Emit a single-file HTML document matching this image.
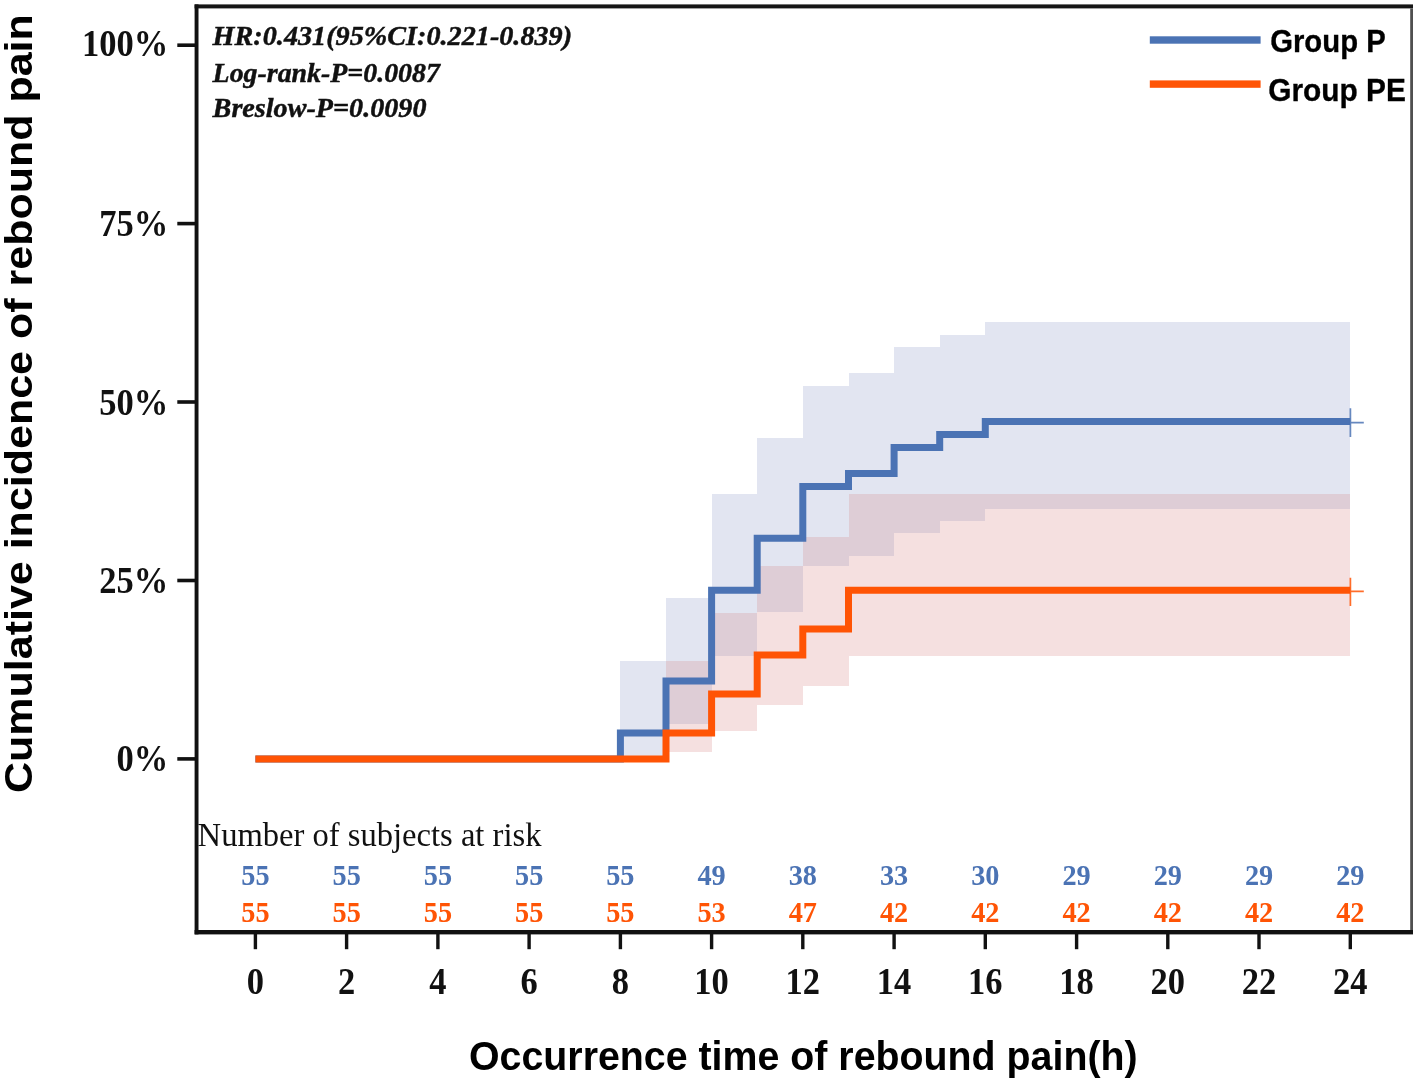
<!DOCTYPE html>
<html><head><meta charset="utf-8"><title>Cumulative incidence of rebound pain</title>
<style>
html,body{margin:0;padding:0;background:#fff;}
body{width:1417px;height:1083px;overflow:hidden;font-family:"Liberation Sans",sans-serif;}
svg{display:block;filter:blur(0.55px);}
</style></head><body>
<svg width="1417" height="1083" viewBox="0 0 1417 1083">
<rect width="1417" height="1083" fill="#fff"/>
<!-- CI bands -->
<g shape-rendering="crispEdges">
<path d="M620.4,661.2 L666.0,661.2 L666.0,597.6 L711.6,597.6 L711.6,493.9 L757.2,493.9 L757.2,438.3 L802.8,438.3 L802.8,386.0 L848.5,386.0 L848.5,373.0 L894.1,373.0 L894.1,347.4 L939.7,347.4 L939.7,334.9 L985.3,334.9 L985.3,322.4 L1350.4,322.4 L1350.4,508.8 L985.3,508.8 L985.3,520.6 L939.7,520.6 L939.7,533.0 L894.1,533.0 L894.1,555.5 L848.5,555.5 L848.5,565.5 L802.8,565.5 L802.8,611.8 L757.2,611.8 L757.2,655.5 L711.6,655.5 L711.6,723.5 L666.0,723.5 L666.0,756.5 L620.4,756.5Z" fill="#e2e5f1"/>
<path d="M666.0,661.2 L711.6,661.2 L711.6,612.8 L757.2,612.8 L757.2,566.0 L802.8,566.0 L802.8,536.8 L848.5,536.8 L848.5,493.9 L1350.4,493.9 L1350.4,655.5 L848.5,655.5 L848.5,686.0 L802.8,686.0 L802.8,705.2 L757.2,705.2 L757.2,730.6 L711.6,730.6 L711.6,752.0 L666.0,752.0Z" fill="#f5e0e0"/>
<path d="M666.0,661.2 L711.6,661.2 L711.6,612.8 L757.2,612.8 L757.2,566.0 L802.8,566.0 L802.8,536.8 L848.5,536.8 L848.5,493.9 L894.1,493.9 L894.1,493.9 L939.7,493.9 L939.7,493.9 L985.3,493.9 L985.3,493.9 L1030.9,493.9 L1030.9,493.9 L1076.6,493.9 L1076.6,493.9 L1122.2,493.9 L1122.2,493.9 L1167.8,493.9 L1167.8,493.9 L1213.4,493.9 L1213.4,493.9 L1259.0,493.9 L1259.0,493.9 L1304.7,493.9 L1304.7,493.9 L1350.4,493.9 L1350.4,508.8 L1304.7,508.8 L1304.7,508.8 L1259.0,508.8 L1259.0,508.8 L1213.4,508.8 L1213.4,508.8 L1167.8,508.8 L1167.8,508.8 L1122.2,508.8 L1122.2,508.8 L1076.6,508.8 L1076.6,508.8 L1030.9,508.8 L1030.9,508.8 L985.3,508.8 L985.3,520.6 L939.7,520.6 L939.7,533.0 L894.1,533.0 L894.1,555.5 L848.5,555.5 L848.5,565.5 L802.8,565.5 L802.8,611.8 L757.2,611.8 L757.2,655.5 L711.6,655.5 L711.6,723.5 L666.0,723.5Z" fill="#decdd6"/>
</g>
<!-- frame -->
<rect x="194.6" y="4.4" width="1218.4" height="4" fill="#161616"/>
<rect x="194.6" y="930" width="1218.4" height="4.4" fill="#111"/>
<rect x="194.6" y="4.4" width="3.9" height="930" fill="#111"/>
<rect x="1410.2" y="8.4" width="2.8" height="921.6" fill="#505050"/>
<rect x="253.7" y="934" width="3.4" height="15.2" fill="#111"/>
<rect x="344.9" y="934" width="3.4" height="15.2" fill="#111"/>
<rect x="436.2" y="934" width="3.4" height="15.2" fill="#111"/>
<rect x="527.4" y="934" width="3.4" height="15.2" fill="#111"/>
<rect x="618.7" y="934" width="3.4" height="15.2" fill="#111"/>
<rect x="709.9" y="934" width="3.4" height="15.2" fill="#111"/>
<rect x="801.1" y="934" width="3.4" height="15.2" fill="#111"/>
<rect x="892.4" y="934" width="3.4" height="15.2" fill="#111"/>
<rect x="983.6" y="934" width="3.4" height="15.2" fill="#111"/>
<rect x="1074.9" y="934" width="3.4" height="15.2" fill="#111"/>
<rect x="1166.1" y="934" width="3.4" height="15.2" fill="#111"/>
<rect x="1257.3" y="934" width="3.4" height="15.2" fill="#111"/>
<rect x="1348.6" y="934" width="3.4" height="15.2" fill="#111"/>
<rect x="177.3" y="757.1" width="18" height="3.6" fill="#111"/>
<rect x="177.3" y="578.7" width="18" height="3.6" fill="#111"/>
<rect x="177.3" y="400.2" width="18" height="3.6" fill="#111"/>
<rect x="177.3" y="221.8" width="18" height="3.6" fill="#111"/>
<rect x="177.3" y="43.4" width="18" height="3.6" fill="#111"/>
<!-- curves -->
<path d="M255.4,758.9 H620.4 V732.9 H666.0 V681.0 H711.6 V590.2 H757.2 V538.3 H802.8 V486.4 H848.5 V473.4 H894.1 V447.5 H939.7 V434.5 H985.3 V421.5 H1350.3" fill="none" stroke="#4b73b4" stroke-width="7" stroke-linejoin="miter"/>
<path d="M255.4,758.9 H666.0 V732.9 H711.6 V694.0 H757.2 V655.1 H802.8 V629.1 H848.5 V590.2 H1350.3" fill="none" stroke="#ff5405" stroke-width="7" stroke-linejoin="miter"/>
<!-- censor marks -->
<path d="M1350.4,408.3 V437 M1350.3,422.6 H1363.8" stroke="#4b73b4" stroke-width="1.7" stroke-opacity="0.85" fill="none"/>
<path d="M1350.4,577.8 V606 M1350.3,591.3 H1363.8" stroke="#ff5405" stroke-width="1.7" stroke-opacity="0.85" fill="none"/>
<!-- legend -->
<rect x="1149.8" y="36.3" width="110.8" height="7.4" fill="#4b73b4"/>
<rect x="1149.8" y="80.4" width="110.8" height="7.4" fill="#ff5405"/>
<text transform="translate(1270.20,51.80) scale(0.976,1.05)" text-anchor="start" font-family="Liberation Sans, sans-serif" font-weight="bold" font-style="normal" font-size="30" fill="#000" stroke="#000" stroke-width="0.3">Group P</text>
<text transform="translate(1268.20,100.70) scale(1.012,1.06)" text-anchor="start" font-family="Liberation Sans, sans-serif" font-weight="bold" font-style="normal" font-size="29.5" fill="#000" stroke="#000" stroke-width="0.3">Group PE</text>
<!-- annotation -->
<text transform="translate(212.60,45.20) scale(1.026,1.0)" text-anchor="start" font-family="Liberation Serif, serif" font-weight="bold" font-style="italic" font-size="27.5" fill="#111" stroke="#111" stroke-width="0.45">HR:0.431(95%CI:0.221-0.839)</text>
<text transform="translate(212.60,82.10) scale(1.014,1.0)" text-anchor="start" font-family="Liberation Serif, serif" font-weight="bold" font-style="italic" font-size="27.5" fill="#111" stroke="#111" stroke-width="0.45">Log-rank-P=0.0087</text>
<text transform="translate(212.60,116.80) scale(1.024,1.0)" text-anchor="start" font-family="Liberation Serif, serif" font-weight="bold" font-style="italic" font-size="27.5" fill="#111" stroke="#111" stroke-width="0.45">Breslow-P=0.0090</text>
<text transform="translate(197.60,845.70) scale(1.0,1.05)" text-anchor="start" font-family="Liberation Serif, serif" font-weight="normal" font-style="normal" font-size="32.6" fill="#111">Number of subjects at risk</text>
<text transform="translate(255.40,885.40) scale(1.0,1.07)" text-anchor="middle" font-family="Liberation Serif, serif" font-weight="bold" font-style="normal" font-size="28.3" fill="#4b73b4">55</text>
<text transform="translate(346.64,885.40) scale(1.0,1.07)" text-anchor="middle" font-family="Liberation Serif, serif" font-weight="bold" font-style="normal" font-size="28.3" fill="#4b73b4">55</text>
<text transform="translate(437.88,885.40) scale(1.0,1.07)" text-anchor="middle" font-family="Liberation Serif, serif" font-weight="bold" font-style="normal" font-size="28.3" fill="#4b73b4">55</text>
<text transform="translate(529.12,885.40) scale(1.0,1.07)" text-anchor="middle" font-family="Liberation Serif, serif" font-weight="bold" font-style="normal" font-size="28.3" fill="#4b73b4">55</text>
<text transform="translate(620.36,885.40) scale(1.0,1.07)" text-anchor="middle" font-family="Liberation Serif, serif" font-weight="bold" font-style="normal" font-size="28.3" fill="#4b73b4">55</text>
<text transform="translate(711.60,885.40) scale(1.0,1.07)" text-anchor="middle" font-family="Liberation Serif, serif" font-weight="bold" font-style="normal" font-size="28.3" fill="#4b73b4">49</text>
<text transform="translate(802.84,885.40) scale(1.0,1.07)" text-anchor="middle" font-family="Liberation Serif, serif" font-weight="bold" font-style="normal" font-size="28.3" fill="#4b73b4">38</text>
<text transform="translate(894.08,885.40) scale(1.0,1.07)" text-anchor="middle" font-family="Liberation Serif, serif" font-weight="bold" font-style="normal" font-size="28.3" fill="#4b73b4">33</text>
<text transform="translate(985.32,885.40) scale(1.0,1.07)" text-anchor="middle" font-family="Liberation Serif, serif" font-weight="bold" font-style="normal" font-size="28.3" fill="#4b73b4">30</text>
<text transform="translate(1076.56,885.40) scale(1.0,1.07)" text-anchor="middle" font-family="Liberation Serif, serif" font-weight="bold" font-style="normal" font-size="28.3" fill="#4b73b4">29</text>
<text transform="translate(1167.80,885.40) scale(1.0,1.07)" text-anchor="middle" font-family="Liberation Serif, serif" font-weight="bold" font-style="normal" font-size="28.3" fill="#4b73b4">29</text>
<text transform="translate(1259.04,885.40) scale(1.0,1.07)" text-anchor="middle" font-family="Liberation Serif, serif" font-weight="bold" font-style="normal" font-size="28.3" fill="#4b73b4">29</text>
<text transform="translate(1350.28,885.40) scale(1.0,1.07)" text-anchor="middle" font-family="Liberation Serif, serif" font-weight="bold" font-style="normal" font-size="28.3" fill="#4b73b4">29</text>
<text transform="translate(255.40,921.90) scale(1.0,1.07)" text-anchor="middle" font-family="Liberation Serif, serif" font-weight="bold" font-style="normal" font-size="28.3" fill="#ff5405">55</text>
<text transform="translate(346.64,921.90) scale(1.0,1.07)" text-anchor="middle" font-family="Liberation Serif, serif" font-weight="bold" font-style="normal" font-size="28.3" fill="#ff5405">55</text>
<text transform="translate(437.88,921.90) scale(1.0,1.07)" text-anchor="middle" font-family="Liberation Serif, serif" font-weight="bold" font-style="normal" font-size="28.3" fill="#ff5405">55</text>
<text transform="translate(529.12,921.90) scale(1.0,1.07)" text-anchor="middle" font-family="Liberation Serif, serif" font-weight="bold" font-style="normal" font-size="28.3" fill="#ff5405">55</text>
<text transform="translate(620.36,921.90) scale(1.0,1.07)" text-anchor="middle" font-family="Liberation Serif, serif" font-weight="bold" font-style="normal" font-size="28.3" fill="#ff5405">55</text>
<text transform="translate(711.60,921.90) scale(1.0,1.07)" text-anchor="middle" font-family="Liberation Serif, serif" font-weight="bold" font-style="normal" font-size="28.3" fill="#ff5405">53</text>
<text transform="translate(802.84,921.90) scale(1.0,1.07)" text-anchor="middle" font-family="Liberation Serif, serif" font-weight="bold" font-style="normal" font-size="28.3" fill="#ff5405">47</text>
<text transform="translate(894.08,921.90) scale(1.0,1.07)" text-anchor="middle" font-family="Liberation Serif, serif" font-weight="bold" font-style="normal" font-size="28.3" fill="#ff5405">42</text>
<text transform="translate(985.32,921.90) scale(1.0,1.07)" text-anchor="middle" font-family="Liberation Serif, serif" font-weight="bold" font-style="normal" font-size="28.3" fill="#ff5405">42</text>
<text transform="translate(1076.56,921.90) scale(1.0,1.07)" text-anchor="middle" font-family="Liberation Serif, serif" font-weight="bold" font-style="normal" font-size="28.3" fill="#ff5405">42</text>
<text transform="translate(1167.80,921.90) scale(1.0,1.07)" text-anchor="middle" font-family="Liberation Serif, serif" font-weight="bold" font-style="normal" font-size="28.3" fill="#ff5405">42</text>
<text transform="translate(1259.04,921.90) scale(1.0,1.07)" text-anchor="middle" font-family="Liberation Serif, serif" font-weight="bold" font-style="normal" font-size="28.3" fill="#ff5405">42</text>
<text transform="translate(1350.28,921.90) scale(1.0,1.07)" text-anchor="middle" font-family="Liberation Serif, serif" font-weight="bold" font-style="normal" font-size="28.3" fill="#ff5405">42</text>
<text transform="translate(255.40,993.80) scale(1.0,1.07)" text-anchor="middle" font-family="Liberation Serif, serif" font-weight="bold" font-style="normal" font-size="34.5" fill="#111">0</text>
<text transform="translate(346.64,993.80) scale(1.0,1.07)" text-anchor="middle" font-family="Liberation Serif, serif" font-weight="bold" font-style="normal" font-size="34.5" fill="#111">2</text>
<text transform="translate(437.88,993.80) scale(1.0,1.07)" text-anchor="middle" font-family="Liberation Serif, serif" font-weight="bold" font-style="normal" font-size="34.5" fill="#111">4</text>
<text transform="translate(529.12,993.80) scale(1.0,1.07)" text-anchor="middle" font-family="Liberation Serif, serif" font-weight="bold" font-style="normal" font-size="34.5" fill="#111">6</text>
<text transform="translate(620.36,993.80) scale(1.0,1.07)" text-anchor="middle" font-family="Liberation Serif, serif" font-weight="bold" font-style="normal" font-size="34.5" fill="#111">8</text>
<text transform="translate(711.60,993.80) scale(1.0,1.07)" text-anchor="middle" font-family="Liberation Serif, serif" font-weight="bold" font-style="normal" font-size="34.5" fill="#111">10</text>
<text transform="translate(802.84,993.80) scale(1.0,1.07)" text-anchor="middle" font-family="Liberation Serif, serif" font-weight="bold" font-style="normal" font-size="34.5" fill="#111">12</text>
<text transform="translate(894.08,993.80) scale(1.0,1.07)" text-anchor="middle" font-family="Liberation Serif, serif" font-weight="bold" font-style="normal" font-size="34.5" fill="#111">14</text>
<text transform="translate(985.32,993.80) scale(1.0,1.07)" text-anchor="middle" font-family="Liberation Serif, serif" font-weight="bold" font-style="normal" font-size="34.5" fill="#111">16</text>
<text transform="translate(1076.56,993.80) scale(1.0,1.07)" text-anchor="middle" font-family="Liberation Serif, serif" font-weight="bold" font-style="normal" font-size="34.5" fill="#111">18</text>
<text transform="translate(1167.80,993.80) scale(1.0,1.07)" text-anchor="middle" font-family="Liberation Serif, serif" font-weight="bold" font-style="normal" font-size="34.5" fill="#111">20</text>
<text transform="translate(1259.04,993.80) scale(1.0,1.07)" text-anchor="middle" font-family="Liberation Serif, serif" font-weight="bold" font-style="normal" font-size="34.5" fill="#111">22</text>
<text transform="translate(1350.28,993.80) scale(1.0,1.07)" text-anchor="middle" font-family="Liberation Serif, serif" font-weight="bold" font-style="normal" font-size="34.5" fill="#111">24</text>
<text transform="translate(168.20,771.40) scale(1.0,1.07)" text-anchor="end" font-family="Liberation Serif, serif" font-weight="bold" font-style="normal" font-size="34.5" fill="#111">0%</text>
<text transform="translate(168.20,593.30) scale(1.0,1.07)" text-anchor="end" font-family="Liberation Serif, serif" font-weight="bold" font-style="normal" font-size="34.5" fill="#111">25%</text>
<text transform="translate(168.20,415.00) scale(1.0,1.07)" text-anchor="end" font-family="Liberation Serif, serif" font-weight="bold" font-style="normal" font-size="34.5" fill="#111">50%</text>
<text transform="translate(168.20,235.60) scale(1.0,1.07)" text-anchor="end" font-family="Liberation Serif, serif" font-weight="bold" font-style="normal" font-size="34.5" fill="#111">75%</text>
<text transform="translate(168.20,56.00) scale(1.0,1.07)" text-anchor="end" font-family="Liberation Serif, serif" font-weight="bold" font-style="normal" font-size="34.5" fill="#111">100%</text>
<!-- axis titles -->
<text transform="translate(803.30,1069.60) scale(0.948,1.0)" text-anchor="middle" font-family="Liberation Sans, sans-serif" font-weight="bold" font-style="normal" font-size="41.5" fill="#000">Occurrence time of rebound pain(h)</text>
<text transform="translate(32.30,403.60) rotate(-90) scale(1.089,1.0)" text-anchor="middle" font-family="Liberation Sans, sans-serif" font-weight="bold" font-style="normal" font-size="39.5" fill="#000">Cumulative incidence of rebound pain</text>
</svg>
</body></html>
